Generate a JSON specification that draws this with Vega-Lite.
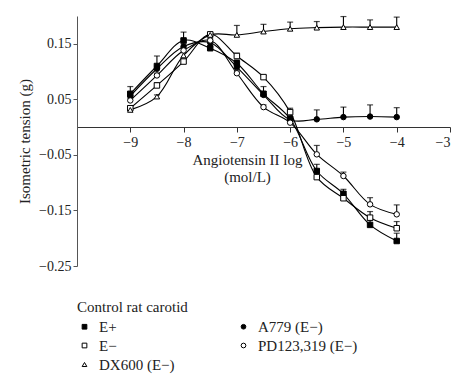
{
  "$schema": "https://vega.github.io/schema/vega-lite/v6.json",
  "autosize": {"type": "none"},
  "width": 373,
  "height": 250,
  "padding": {"left": 77, "top": 16, "right": 24, "bottom": 125},
  "background": "white",
  "config": {
    "font": "Liberation Serif",
    "view": {"stroke": null},
    "axis": {"labelFont": "Liberation Serif", "titleFont": "Liberation Serif", "labelFontSize": 14, "titleFontSize": 15, "titleFontWeight": "normal", "labelColor": "#222", "titleColor": "#222", "domainColor": "#555", "tickColor": "#555", "grid": false},
    "legend": {"labelFont": "Liberation Serif", "titleFont": "Liberation Serif"}
  },
  "data": {"values": [
    {"s": "E+", "x": -9, "y": 0.060, "hi": 0.073},
    {"s": "E+", "x": -8.5, "y": 0.110, "hi": 0.128},
    {"s": "E+", "x": -8, "y": 0.156, "hi": 0.171},
    {"s": "E+", "x": -7.5, "y": 0.142, "hi": 0.146},
    {"s": "E+", "x": -7, "y": 0.115, "hi": 0.121},
    {"s": "E+", "x": -6.5, "y": 0.060, "hi": 0.073},
    {"s": "E+", "x": -6, "y": 0.015, "hi": 0.034},
    {"s": "E+", "x": -5.5, "y": -0.079, "hi": -0.067},
    {"s": "E+", "x": -5, "y": -0.120, "hi": -0.112},
    {"s": "E+", "x": -4.5, "y": -0.176, "hi": -0.168},
    {"s": "E+", "x": -4, "y": -0.205, "hi": -0.191},
    {"s": "E−", "x": -9, "y": 0.034, "hi": 0.038},
    {"s": "E−", "x": -8.5, "y": 0.075, "hi": 0.080},
    {"s": "E−", "x": -8, "y": 0.118, "hi": 0.122},
    {"s": "E−", "x": -7.5, "y": 0.167, "hi": 0.170},
    {"s": "E−", "x": -7, "y": 0.128, "hi": 0.133},
    {"s": "E−", "x": -6.5, "y": 0.090, "hi": 0.093},
    {"s": "E−", "x": -6, "y": 0.027, "hi": 0.031},
    {"s": "E−", "x": -5.5, "y": -0.090, "hi": -0.082},
    {"s": "E−", "x": -5, "y": -0.128, "hi": -0.121},
    {"s": "E−", "x": -4.5, "y": -0.163, "hi": -0.152},
    {"s": "E−", "x": -4, "y": -0.182, "hi": -0.170},
    {"s": "DX600 (E−)", "x": -9, "y": 0.031, "hi": 0.034},
    {"s": "DX600 (E−)", "x": -8.5, "y": 0.055, "hi": 0.058},
    {"s": "DX600 (E−)", "x": -8, "y": 0.129, "hi": 0.134},
    {"s": "DX600 (E−)", "x": -7.5, "y": 0.166, "hi": 0.169},
    {"s": "DX600 (E−)", "x": -7, "y": 0.166, "hi": 0.183},
    {"s": "DX600 (E−)", "x": -6.5, "y": 0.172, "hi": 0.185},
    {"s": "DX600 (E−)", "x": -6, "y": 0.177, "hi": 0.189},
    {"s": "DX600 (E−)", "x": -5.5, "y": 0.179, "hi": 0.190},
    {"s": "DX600 (E−)", "x": -5, "y": 0.180, "hi": 0.199},
    {"s": "DX600 (E−)", "x": -4.5, "y": 0.180, "hi": 0.193},
    {"s": "DX600 (E−)", "x": -4, "y": 0.180, "hi": 0.198},
    {"s": "A779 (E−)", "x": -9, "y": 0.056, "hi": 0.062},
    {"s": "A779 (E−)", "x": -8.5, "y": 0.105, "hi": 0.110},
    {"s": "A779 (E−)", "x": -8, "y": 0.145, "hi": 0.150},
    {"s": "A779 (E−)", "x": -7.5, "y": 0.152, "hi": 0.156},
    {"s": "A779 (E−)", "x": -7, "y": 0.108, "hi": 0.113},
    {"s": "A779 (E−)", "x": -6.5, "y": 0.058, "hi": 0.064},
    {"s": "A779 (E−)", "x": -6, "y": 0.013, "hi": 0.020},
    {"s": "A779 (E−)", "x": -5.5, "y": 0.014, "hi": 0.031},
    {"s": "A779 (E−)", "x": -5, "y": 0.018, "hi": 0.036},
    {"s": "A779 (E−)", "x": -4.5, "y": 0.019, "hi": 0.040},
    {"s": "A779 (E−)", "x": -4, "y": 0.018, "hi": 0.035},
    {"s": "PD123,319 (E−)", "x": -9, "y": 0.048, "hi": 0.052},
    {"s": "PD123,319 (E−)", "x": -8.5, "y": 0.093, "hi": 0.097},
    {"s": "PD123,319 (E−)", "x": -8, "y": 0.138, "hi": 0.142},
    {"s": "PD123,319 (E−)", "x": -7.5, "y": 0.156, "hi": 0.159},
    {"s": "PD123,319 (E−)", "x": -7, "y": 0.097, "hi": 0.101},
    {"s": "PD123,319 (E−)", "x": -6.5, "y": 0.036, "hi": 0.040},
    {"s": "PD123,319 (E−)", "x": -6, "y": 0.008, "hi": 0.012},
    {"s": "PD123,319 (E−)", "x": -5.5, "y": -0.049, "hi": -0.033},
    {"s": "PD123,319 (E−)", "x": -5, "y": -0.088, "hi": -0.081},
    {"s": "PD123,319 (E−)", "x": -4.5, "y": -0.139, "hi": -0.127},
    {"s": "PD123,319 (E−)", "x": -4, "y": -0.157, "hi": -0.140}
  ]},
  "encoding": {
    "x": {"field": "x", "type": "quantitative",
      "scale": {"domain": [-10, -3], "nice": false, "zero": false},
      "axis": {"values": [-9, -8, -7, -6, -5, -4, -3], "offset": -139, "tickSize": 5, "labelPadding": 3, "domainColor": "#333", "tickColor": "#333",
        "title": ["Angiotensin II log", "(mol/L)"], "titlePadding": 3, "titleX": 170, "titleAnchor": "middle", "titleLineHeight": 17}},
    "y": {"field": "y", "type": "quantitative",
      "scale": {"domain": [-0.25, 0.2], "nice": false, "zero": false},
      "axis": {"values": [0.15, 0.05, -0.05, -0.15, -0.25], "format": ".2f", "tickSize": 4, "labelPadding": 2, "title": "Isometric tension (g)", "titlePadding": 6}}
  },
  "layer": [
    {"mark": {"type": "line", "interpolate": "catmull-rom", "color": "black", "strokeWidth": 1.1},
     "encoding": {"detail": {"field": "s"}}},
    {"mark": {"type": "rule", "color": "black", "strokeWidth": 1.1},
     "encoding": {"y2": {"field": "hi"}}},
    {"mark": {"type": "tick", "orient": "horizontal", "color": "black", "size": 6, "thickness": 1.2},
     "encoding": {"y": {"field": "hi", "type": "quantitative"}}},
    {"mark": {"type": "point", "filled": true, "strokeWidth": 1, "opacity": 1, "size": 30},
     "encoding": {
       "shape": {"field": "s", "type": "nominal",
         "scale": {"domain": ["E+", "E−", "DX600 (E−)", "A779 (E−)", "PD123,319 (E−)"], "range": ["square", "square", "triangle-up", "circle", "circle"]},
         "legend": {"title": "Control rat carotid", "orient": "none", "legendX": 0, "legendY": 284, "columns": 2, "columnPadding": 61, "rowPadding": 3, "titleFontSize": 15, "titleFontWeight": "normal", "titleColor": "#222", "titlePadding": 4, "labelFontSize": 15, "labelColor": "#222", "labelOffset": 7, "symbolSize": 22, "symbolStrokeWidth": 1, "padding": 0}},
       "fill": {"field": "s", "type": "nominal",
         "scale": {"domain": ["E+", "E−", "DX600 (E−)", "A779 (E−)", "PD123,319 (E−)"], "range": ["black", "white", "white", "black", "white"]},
         "legend": {"title": "Control rat carotid"}},
       "stroke": {"field": "s", "type": "nominal",
         "scale": {"domain": ["E+", "E−", "DX600 (E−)", "A779 (E−)", "PD123,319 (E−)"], "range": ["black", "black", "black", "black", "black"]},
         "legend": {"title": "Control rat carotid"}}
     }}
  ]
}
